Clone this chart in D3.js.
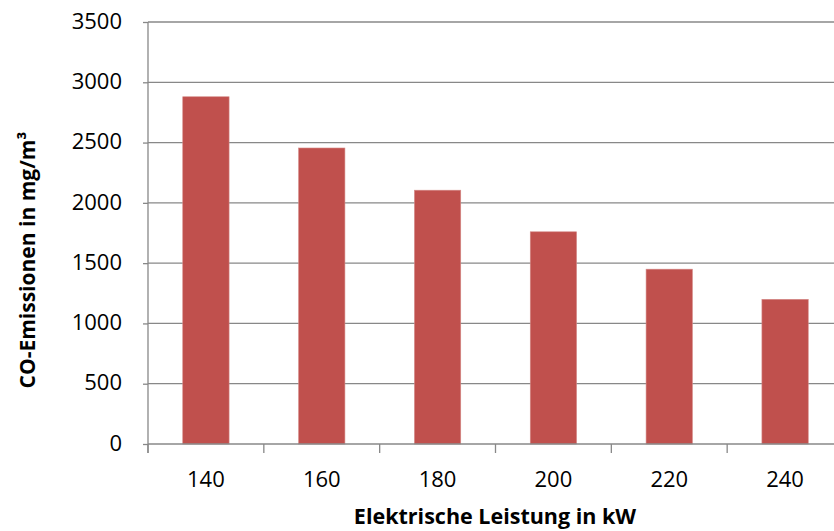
<!DOCTYPE html>
<html>
<head>
<meta charset="utf-8">
<script src="https://cdn.jsdelivr.net/npm/d3@7"></script>
<style>
body { margin:0; background:#fff; }
svg { display:block; font-family: "Open Sans", Lato, sans-serif; }
</style>
</head>
<body>
<div id="chart"></div>
<script>
var categories = ["140", "160", "180", "200", "220", "240"];
var values = [2880, 2455, 2105, 1760, 1450, 1200];
var yTicks = [0, 500, 1000, 1500, 2000, 2500, 3000, 3500];

var margin = {top: 22, left: 148, right: 0, bottom: 87},
    width = 695,
    height = 531 - margin.top - margin.bottom;

var svg = d3.select("#chart")
  .append("svg")
  .attr("width", 834)
  .attr("height", 531);

var canvas = svg.append("g")
  .attr("transform", "translate(" + margin.left + "," + margin.top + ")");

var x = d3.scaleBand()
  .domain(categories)
  .range([0, width])
  .paddingInner(0.6)
  .paddingOuter(0.3);

var y = d3.scaleLinear()
  .domain([0, 3500])
  .range([height, 0]);

// gridlines
canvas.selectAll(".grid")
  .data(yTicks.slice(1))
  .enter().append("line")
  .attr("class", "grid")
  .attr("x1", 0)
  .attr("x2", width)
  .attr("y1", function(d) { return y(d); })
  .attr("y2", function(d) { return y(d); })
  .attr("stroke", "#888")
  .attr("stroke-width", 1.3);

// bars
canvas.selectAll(".bar")
  .data(values)
  .enter().append("rect")
  .attr("class", "bar")
  .attr("x", function(d, i) { return x(categories[i]); })
  .attr("width", x.bandwidth())
  .attr("y", function(d) { return y(d); })
  .attr("height", function(d) { return height - y(d); })
  .attr("fill", "#C0504D")
  .attr("stroke", "#d58a88")
  .attr("stroke-width", 0.6);

// y axis
var yAxis = canvas.append("g")
  .call(d3.axisLeft(y).tickValues(yTicks).tickSize(5).tickPadding(21).tickFormat(d3.format("d")));
yAxis.select(".domain").attr("stroke", "#888").attr("stroke-width", 1.3)
  .attr("d", "M0," + (height + 9) + "V0");
yAxis.selectAll(".tick line").attr("stroke", "#888").attr("stroke-width", 1.3);
yAxis.selectAll("text").attr("font-size", 22).attr("fill", "#000")
  .attr("dy", "0.28em")
  .attr("font-family", "'Open Sans', Lato, sans-serif");

// x axis
var bounds = d3.range(categories.length + 1).map(function(i) { return i * width / categories.length; });
var xg = canvas.append("g")
  .attr("transform", "translate(0," + height + ")");
xg.append("line")
  .attr("x1", 0).attr("x2", width)
  .attr("stroke", "#888").attr("stroke-width", 1.3);
xg.selectAll(".xt")
  .data(bounds)
  .enter().append("line")
  .attr("class", "xt")
  .attr("x1", function(d) { return d; })
  .attr("x2", function(d) { return d; })
  .attr("y1", 0).attr("y2", 9)
  .attr("stroke", "#888").attr("stroke-width", 1.3);
xg.selectAll(".xl")
  .data(categories)
  .enter().append("text")
  .attr("class", "xl")
  .attr("x", function(d) { return x(d) + x.bandwidth() / 2; })
  .attr("y", 43)
  .attr("text-anchor", "middle")
  .attr("font-size", 22)
  .text(function(d) { return d; });

// titles
svg.append("text")
  .attr("x", 495)
  .attr("y", 524)
  .attr("text-anchor", "middle")
  .attr("font-size", 21.5)
  .attr("font-weight", "bold")
  .text("Elektrische Leistung in kW");

svg.append("text")
  .attr("transform", "translate(35,260) rotate(-90)")
  .attr("text-anchor", "middle")
  .attr("font-size", 21)
  .attr("font-weight", "bold")
  .text("CO-Emissionen in mg/m³");
</script>
</body>
</html>
